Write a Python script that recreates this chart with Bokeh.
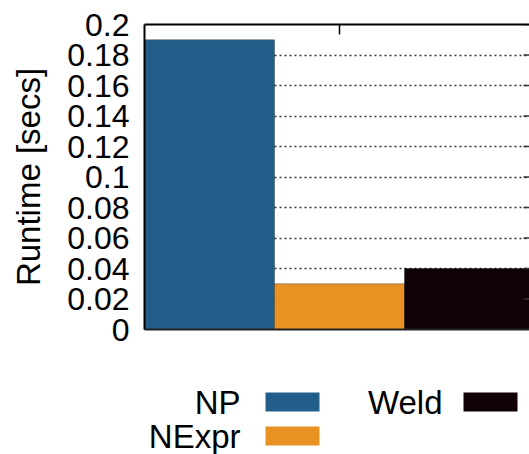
from bokeh.plotting import figure
from bokeh.models import Range1d, FixedTicker, LinearAxis, Grid, ColumnDataSource
from bokeh.layouts import column
from bokeh.core.properties import value
from bokeh.embed import file_html
from bokeh.resources import INLINE

# ---- data ----
categories = ["NP", "NExpr", "Weld"]
runtimes = [0.19, 0.03, 0.04]
colors = ["#225E89", "#E89223", "#110006"]
y_ticks = [0, 0.02, 0.04, 0.06, 0.08, 0.1, 0.12, 0.14, 0.16, 0.18, 0.2]
y_tick_labels = ["0", "0.02", "0.04", "0.06", "0.08", "0.1", "0.12", "0.14", "0.16", "0.18", "0.2"]
y_label = "Runtime [secs]"

FONT = "Liberation Sans"
W = 529
LEFT = 144
X_END = 2.4615
MAIN_H = 347

# ---- main plot ----
xs = list(range(len(categories)))
src = ColumnDataSource(dict(x=xs, top=runtimes, color=colors, name=categories))

p = figure(width=W, height=MAIN_H, output_backend="svg", toolbar_location=None, title=None,
           x_range=Range1d(-0.5, X_END), y_range=Range1d(0, 0.2),
           x_axis_type=None, y_axis_type=None,
           min_border_left=LEFT, min_border_right=0, min_border_top=24,
           min_border_bottom=MAIN_H - 329)
p.outline_line_color = None

grid = Grid(dimension=1, ticker=FixedTicker(ticks=y_ticks[1:-1]),
            grid_line_color="#333333", grid_line_dash="2 3", grid_line_width=1.3)
p.add_layout(grid)

p.vbar(x="x", top="top", width=1, bottom=0, fill_color="color", source=src,
       line_color="black", line_alpha=0.3, line_width=1)

# mirrored inward ticks on the (cut-off) right border: dashes centred on the frame edge
p.scatter(x=[X_END] * len(y_ticks), y=y_ticks, marker="dash", size=12,
          line_color="#333333", line_width=1.5)

yaxis = LinearAxis(ticker=FixedTicker(ticks=y_ticks),
                   major_label_overrides={t: l for t, l in zip(y_ticks, y_tick_labels)},
                   axis_label=y_label,
                   axis_label_text_font=FONT, axis_label_text_font_size="33px",
                   axis_label_text_font_style="normal", axis_label_text_color="black",
                   axis_label_standoff=17,
                   major_label_text_font=FONT, major_label_text_font_size="32px",
                   major_label_text_color="black", major_label_standoff=15,
                   major_tick_in=0, major_tick_out=0, minor_tick_line_color=None,
                   axis_line_color="black", axis_line_width=2)
p.add_layout(yaxis, "left")

# top border with the single (unlabelled) cluster tick
taxis = LinearAxis(ticker=FixedTicker(ticks=[1]), major_tick_in=10, major_tick_out=0,
                   major_tick_line_color="black", major_tick_line_width=1.5,
                   major_label_overrides={1: ""}, major_label_standoff=0,
                   minor_tick_line_color=None, axis_line_color="black", axis_line_width=2)
p.add_layout(taxis, "above")

baxis = LinearAxis(ticker=FixedTicker(ticks=[]), major_tick_in=0, major_tick_out=0,
                   major_label_standoff=0,
                   minor_tick_line_color=None, axis_line_color="#222222", axis_line_width=2)
p.add_layout(baxis, "below")

# ---- legend (gnuplot-style: label right-aligned, swatch to its right) ----
LH = 454 - MAIN_H
leg = figure(width=W, height=LH, output_backend="svg", toolbar_location=None, title=None,
             x_range=Range1d(LEFT, W), y_range=Range1d(LH, 0),
             x_axis_type=None, y_axis_type=None,
             min_border_left=LEFT, min_border_right=0, min_border_top=0, min_border_bottom=0)
leg.outline_line_color = None
leg.grid.visible = False

col_text_right = [240, 442]
col_swatch_left = [265, 463]
row_center = [401.5 - MAIN_H, 435.5 - MAIN_H]
sw_w, sw_h = 54, 19

idx = list(range(len(categories)))
cols = [i // 2 for i in idx]
rows = [i % 2 for i in idx]
lsrc = ColumnDataSource(dict(
    tx=[col_text_right[c] for c in cols],
    sx=[col_swatch_left[c] + sw_w / 2 for c in cols],
    y=[row_center[r] for r in rows],
    label=categories, color=colors))
leg.text(x="tx", y="y", text="label", source=lsrc, text_align="right", text_baseline="middle",
         text_font=value(FONT), text_font_size="33px", text_color="black")
leg.rect(x="sx", y="y", width=sw_w, height=sw_h, fill_color="color", line_color=None, source=lsrc)

layout = column(p, leg, spacing=0)
open("out.html", "w").write(file_html(layout, INLINE))
